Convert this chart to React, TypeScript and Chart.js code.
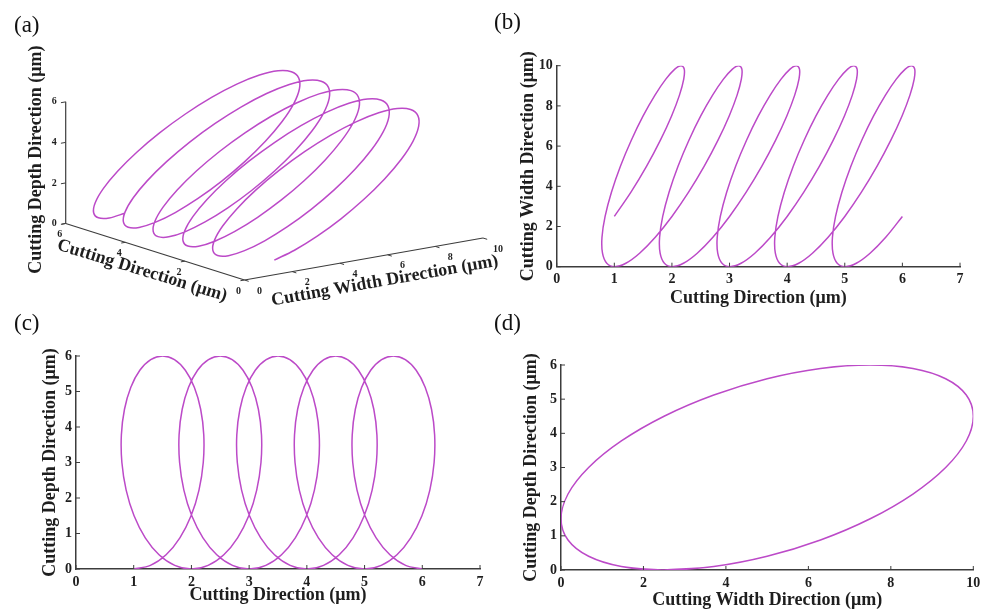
import React, { useEffect, useRef } from "react";
import { Chart, registerables } from "chart.js";

Chart.register(...registerables);

const cuttingDirection = [
  1.0, 1.289, 1.561, 1.8, 1.994, 2.131, 2.205, 2.214, 2.16, 2.05, 1.894, 1.706, 1.5, 1.295, 1.106, 0.95, 0.84, 0.786, 0.795, 0.869, 1.006, 1.2, 1.439, 1.711,
  2.0, 2.289, 2.561, 2.8, 2.994, 3.131, 3.205, 3.214, 3.16, 3.05, 2.894, 2.706, 2.5, 2.295, 2.106, 1.95, 1.84, 1.786, 1.795, 1.869, 2.006, 2.2, 2.439, 2.711,
  3.0, 3.289, 3.561, 3.8, 3.994, 4.131, 4.205, 4.214, 4.16, 4.05, 3.894, 3.706, 3.5, 3.295, 3.106, 2.95, 2.84, 2.786, 2.795, 2.869, 3.006, 3.2, 3.439, 3.711,
  4.0, 4.289, 4.561, 4.8, 4.994, 5.131, 5.205, 5.214, 5.16, 5.05, 4.894, 4.706, 4.5, 4.295, 4.106, 3.95, 3.84, 3.786, 3.795, 3.869, 4.006, 4.2, 4.439, 4.711,
  5.0, 5.289, 5.561, 5.8, 5.994, 6.131, 6.205, 6.214, 6.16, 6.05, 5.894, 5.706, 5.5, 5.295, 5.106, 4.95, 4.84, 4.786, 4.795, 4.869, 5.006, 5.2, 5.439, 5.711,
  6.0,
];

const widthDirection = [
  2.5, 3.706, 5.0, 6.294, 7.5, 8.536, 9.33, 9.83, 10.0, 9.83, 9.33, 8.536, 7.5, 6.294, 5.0, 3.706, 2.5, 1.464, 0.67, 0.17, 0.0, 0.17, 0.67, 1.464,
  2.5, 3.706, 5.0, 6.294, 7.5, 8.536, 9.33, 9.83, 10.0, 9.83, 9.33, 8.536, 7.5, 6.294, 5.0, 3.706, 2.5, 1.464, 0.67, 0.17, 0.0, 0.17, 0.67, 1.464,
  2.5, 3.706, 5.0, 6.294, 7.5, 8.536, 9.33, 9.83, 10.0, 9.83, 9.33, 8.536, 7.5, 6.294, 5.0, 3.706, 2.5, 1.464, 0.67, 0.17, 0.0, 0.17, 0.67, 1.464,
  2.5, 3.706, 5.0, 6.294, 7.5, 8.536, 9.33, 9.83, 10.0, 9.83, 9.33, 8.536, 7.5, 6.294, 5.0, 3.706, 2.5, 1.464, 0.67, 0.17, 0.0, 0.17, 0.67, 1.464,
  2.5, 3.706, 5.0, 6.294, 7.5, 8.536, 9.33, 9.83, 10.0, 9.83, 9.33, 8.536, 7.5, 6.294, 5.0, 3.706, 2.5, 1.464, 0.67, 0.17, 0.0, 0.17, 0.67, 1.464,
  2.5,
];

const depthDirection = [
  0.0, 0.102, 0.402, 0.879, 1.5, 2.224, 3.0, 3.776, 4.5, 5.121, 5.598, 5.898, 6.0, 5.898, 5.598, 5.121, 4.5, 3.776, 3.0, 2.224, 1.5, 0.879, 0.402, 0.102,
  0.0, 0.102, 0.402, 0.879, 1.5, 2.224, 3.0, 3.776, 4.5, 5.121, 5.598, 5.898, 6.0, 5.898, 5.598, 5.121, 4.5, 3.776, 3.0, 2.224, 1.5, 0.879, 0.402, 0.102,
  0.0, 0.102, 0.402, 0.879, 1.5, 2.224, 3.0, 3.776, 4.5, 5.121, 5.598, 5.898, 6.0, 5.898, 5.598, 5.121, 4.5, 3.776, 3.0, 2.224, 1.5, 0.879, 0.402, 0.102,
  0.0, 0.102, 0.402, 0.879, 1.5, 2.224, 3.0, 3.776, 4.5, 5.121, 5.598, 5.898, 6.0, 5.898, 5.598, 5.121, 4.5, 3.776, 3.0, 2.224, 1.5, 0.879, 0.402, 0.102,
  0.0, 0.102, 0.402, 0.879, 1.5, 2.224, 3.0, 3.776, 4.5, 5.121, 5.598, 5.898, 6.0, 5.898, 5.598, 5.121, 4.5, 3.776, 3.0, 2.224, 1.5, 0.879, 0.402, 0.102,
  0.0,
];

// Tick labels
const cuttingTicks = [0, 1, 2, 3, 4, 5, 6, 7];
const widthTicks = [0, 2, 4, 6, 8, 10];
const depthTicks = [0, 1, 2, 3, 4, 5, 6];
const cuttingTicks3D = [0, 2, 4, 6];
const widthTicks3D = [0, 2, 4, 6, 8, 10];
const depthTicks3D = [0, 2, 4, 6];

const TITLE_CUT = "Cutting Direction (μm)";
const TITLE_WIDTH = "Cutting Width Direction (μm)";
const TITLE_DEPTH = "Cutting Depth Direction (μm)";

const SERIF = '"Liberation Serif", "Times New Roman", Times, serif';
const LINE = "#BC4AC8";
const AXIS = "#3c3c3c";
const TEXT = "#1e1e1e";

type Box = { left: number; top: number; width: number; height: number };
type Area = { left: number; top: number; right: number; bottom: number };

type Panel2DProps = {
  xs: number[];
  ys: number[];
  xTicks: number[];
  yTicks: number[];
  xTitle: string;
  yTitle: string;
  box: Box;
  area: Area;
  yTitleX: number;
  xTitleY: number;
};

function Panel2D(p: Panel2DProps) {
  const ref = useRef<HTMLCanvasElement>(null);
  useEffect(() => {
    const canvas = ref.current;
    if (!canvas) return;
    const { box, area } = p;
    const data = p.xs.map((x, i) => ({ x, y: p.ys[i] }));
    const tickFont = { family: SERIF, size: 14, weight: "bold" as const };
    const titleFont = { family: SERIF, size: 18, weight: "bold" as const };
    const half = (18 * 1.2) / 2;

    const inwardTicks = {
      id: "inwardTicks",
      afterDatasetsDraw(chart: any) {
        const { ctx, chartArea, scales } = chart;
        ctx.save();
        ctx.strokeStyle = AXIS;
        ctx.lineWidth = 1;
        for (const v of p.xTicks) {
          const x = scales.x.getPixelForValue(v);
          ctx.beginPath();
          ctx.moveTo(x, chartArea.bottom);
          ctx.lineTo(x, chartArea.bottom - 4);
          ctx.stroke();
        }
        for (const v of p.yTicks) {
          const y = scales.y.getPixelForValue(v);
          ctx.beginPath();
          ctx.moveTo(chartArea.left, y);
          ctx.lineTo(chartArea.left + 4, y);
          ctx.stroke();
        }
        ctx.restore();
      },
    };

    const chart = new Chart(canvas, {
      type: "scatter",
      data: {
        datasets: [
          {
            data,
            showLine: true,
            borderColor: LINE,
            backgroundColor: LINE,
            borderWidth: 1.5,
            pointRadius: 0,
            tension: 0.35,
            fill: false,
          },
        ],
      },
      options: {
        animation: false,
        responsive: false,
        maintainAspectRatio: false,
        events: [],
        layout: {
          padding: {
            left: 0,
            top: area.top - box.top,
            right: box.left + box.width - area.right,
            bottom: 0,
          },
        },
        plugins: { legend: { display: false }, tooltip: { enabled: false } },
        scales: {
          x: {
            type: "linear",
            position: "bottom",
            min: p.xTicks[0],
            max: p.xTicks[p.xTicks.length - 1],
            grid: { display: false, drawTicks: false },
            border: { display: true, color: AXIS, width: 1.5 },
            ticks: { autoSkip: false, maxRotation: 0, padding: 4.5, color: TEXT, font: tickFont },
            afterBuildTicks: (s: any) => {
              s.ticks = p.xTicks.map((v) => ({ value: v }));
            },
            afterFit: (s: any) => {
              s.height = box.top + box.height - area.bottom;
            },
            title: {
              display: true,
              text: p.xTitle,
              color: TEXT,
              font: titleFont,
              padding: { top: 0, bottom: box.top + box.height - p.xTitleY - half },
            },
          },
          y: {
            type: "linear",
            position: "left",
            min: p.yTicks[0],
            max: p.yTicks[p.yTicks.length - 1],
            grid: { display: false, drawTicks: false },
            border: { display: true, color: AXIS, width: 1.5 },
            ticks: { autoSkip: false, padding: 4, color: TEXT, font: tickFont },
            afterBuildTicks: (s: any) => {
              s.ticks = p.yTicks.map((v) => ({ value: v }));
            },
            afterFit: (s: any) => {
              s.width = area.left - box.left;
            },
            title: {
              display: true,
              text: p.yTitle,
              color: TEXT,
              font: titleFont,
              padding: { top: p.yTitleX - box.left - half, bottom: 0 },
            },
          },
        },
      },
      plugins: [inwardTicks],
    } as any);
    return () => chart.destroy();
  }, []);
  const { box } = p;
  return (
    <canvas
      ref={ref}
      width={box.width}
      height={box.height}
      style={{ position: "absolute", left: box.left, top: box.top, width: box.width, height: box.height }}
    />
  );
}

// Oblique projection of the 3D axes box for panel (a), in panel pixels
const ORIGIN = { x: 244.5, y: 280 };
const E_CUT = { x: -29.8, y: -9.42 };
const E_WIDTH = { x: 23.85, y: -4.2 };
const E_DEPTH = { x: 0, y: -20.27 };
const A_W = 520;
const A_H = 310;

function proj(c: number, w: number, d: number) {
  return {
    x: ORIGIN.x + c * E_CUT.x + w * E_WIDTH.x + d * E_DEPTH.x,
    y: ORIGIN.y + c * E_CUT.y + w * E_WIDTH.y + d * E_DEPTH.y,
  };
}

function Panel3D() {
  const ref = useRef<HTMLCanvasElement>(null);
  useEffect(() => {
    const canvas = ref.current;
    if (!canvas) return;
    const curve = cuttingDirection.map((c, i) => proj(c, widthDirection[i], depthDirection[i]));
    const cMax = cuttingTicks3D[cuttingTicks3D.length - 1];
    const wMax = widthTicks3D[widthTicks3D.length - 1];
    const dMax = depthTicks3D[depthTicks3D.length - 1];
    const axisCut = [proj(cMax, 0, 0), proj(0, 0, 0)];
    const axisWidth = [proj(0, 0, 0), proj(0, wMax, 0)];
    const axisDepth = [proj(cMax, 0, 0), proj(cMax, 0, dMax)];

    const axisSet = (data: any[]) => ({
      data,
      showLine: true,
      borderColor: AXIS,
      borderWidth: 1.2,
      pointRadius: 0,
      tension: 0,
      fill: false,
    });

    const decor = {
      id: "decor3d",
      afterDatasetsDraw(chart: any) {
        const { ctx, scales } = chart;
        const px = (q: { x: number; y: number }) => ({
          x: scales.x.getPixelForValue(q.x),
          y: scales.y.getPixelForValue(q.y),
        });
        const seg = (a: any, b: any) => {
          const A = px(a);
          const B = px(b);
          ctx.beginPath();
          ctx.moveTo(A.x, A.y);
          ctx.lineTo(B.x, B.y);
          ctx.stroke();
        };
        ctx.save();
        ctx.strokeStyle = AXIS;
        ctx.lineWidth = 1;
        ctx.fillStyle = TEXT;
        ctx.font = `bold 10px ${SERIF}`;
        ctx.textBaseline = "middle";
        ctx.textAlign = "center";
        for (const c of cuttingTicks3D) {
          seg(proj(c, 0, 0), proj(c, -0.17, 0));
          const P = px(proj(c, 0, 0));
          ctx.fillText(String(c), P.x - 6, P.y + 11);
        }
        for (const w of widthTicks3D) {
          seg(proj(0, w, 0), proj(-0.14, w, 0));
          const P = px(proj(0, w, 0));
          ctx.fillText(String(w), P.x + 15, P.y + 11);
        }
        ctx.textAlign = "right";
        for (const d of depthTicks3D) {
          seg(proj(cMax, 0, d), proj(cMax, -0.2, d));
          const P = px(proj(cMax, 0, d));
          ctx.fillText(String(d), P.x - 9, P.y);
        }
        ctx.font = `bold 18px ${SERIF}`;
        ctx.textAlign = "center";
        const rot = (text: string, x: number, y: number, deg: number) => {
          ctx.save();
          ctx.translate(x, y);
          ctx.rotate((deg * Math.PI) / 180);
          ctx.fillText(text, 0, 0);
          ctx.restore();
        };
        const mc = px(proj(cMax / 2, 0, 0));
        rot(TITLE_CUT, mc.x - 13, mc.y + 19, 17);
        const mw = px(proj(0, wMax / 2, 0));
        rot(TITLE_WIDTH, mw.x + 21, mw.y + 22, -10);
        const md = px(proj(cMax, 0, dMax / 2));
        rot(TITLE_DEPTH, md.x - 29, md.y - 3, -90);
        ctx.restore();
      },
    };

    const chart = new Chart(canvas, {
      type: "scatter",
      data: {
        datasets: [
          axisSet(axisCut),
          axisSet(axisWidth),
          axisSet(axisDepth),
          {
            data: curve,
            showLine: true,
            borderColor: LINE,
            borderWidth: 1.5,
            pointRadius: 0,
            tension: 0.35,
            fill: false,
          },
        ],
      },
      options: {
        animation: false,
        responsive: false,
        maintainAspectRatio: false,
        events: [],
        layout: { padding: 0 },
        plugins: { legend: { display: false }, tooltip: { enabled: false } },
        scales: {
          x: { type: "linear", min: 0, max: A_W, display: false },
          y: { type: "linear", min: 0, max: A_H, reverse: true, display: false },
        },
      },
      plugins: [decor],
    } as any);
    return () => chart.destroy();
  }, []);
  return (
    <canvas
      ref={ref}
      width={A_W}
      height={A_H}
      style={{ position: "absolute", left: 0, top: 0, width: A_W, height: A_H }}
    />
  );
}

const labelStyle = (left: number, top: number): React.CSSProperties => ({
  position: "absolute",
  left,
  top,
  fontFamily: SERIF,
  fontSize: 23,
  lineHeight: "23px",
  color: "#111",
  whiteSpace: "nowrap",
});

export default function App() {
  return (
    <div
      style={{
        position: "absolute",
        left: 0,
        top: 0,
        width: 986,
        height: 613,
        background: "#ffffff",
        overflow: "hidden",
      }}
    >
      <Panel3D />
      <Panel2D
        xs={cuttingDirection}
        ys={widthDirection}
        xTicks={cuttingTicks}
        yTicks={widthTicks}
        xTitle={TITLE_CUT}
        yTitle={TITLE_WIDTH}
        box={{ left: 490, top: 0, width: 496, height: 310 }}
        area={{ left: 556.7, top: 65.7, right: 960, bottom: 266.7 }}
        yTitleX={528.3}
        xTitleY={298}
      />
      <Panel2D
        xs={cuttingDirection}
        ys={depthDirection}
        xTicks={cuttingTicks}
        yTicks={depthTicks}
        xTitle={TITLE_CUT}
        yTitle={TITLE_DEPTH}
        box={{ left: 0, top: 305, width: 490, height: 308 }}
        area={{ left: 76, top: 356, right: 480, bottom: 569 }}
        yTitleX={50}
        xTitleY={595}
      />
      <Panel2D
        xs={widthDirection}
        ys={depthDirection}
        xTicks={widthTicks}
        yTicks={depthTicks}
        xTitle={TITLE_WIDTH}
        yTitle={TITLE_DEPTH}
        box={{ left: 490, top: 305, width: 496, height: 308 }}
        area={{ left: 561, top: 365, right: 973.3, bottom: 570 }}
        yTitleX={531.7}
        xTitleY={600}
      />
      <div style={labelStyle(14, 13)}>(a)</div>
      <div style={labelStyle(494, 10)}>(b)</div>
      <div style={labelStyle(14, 311)}>(c)</div>
      <div style={labelStyle(494, 311)}>(d)</div>
    </div>
  );
}
